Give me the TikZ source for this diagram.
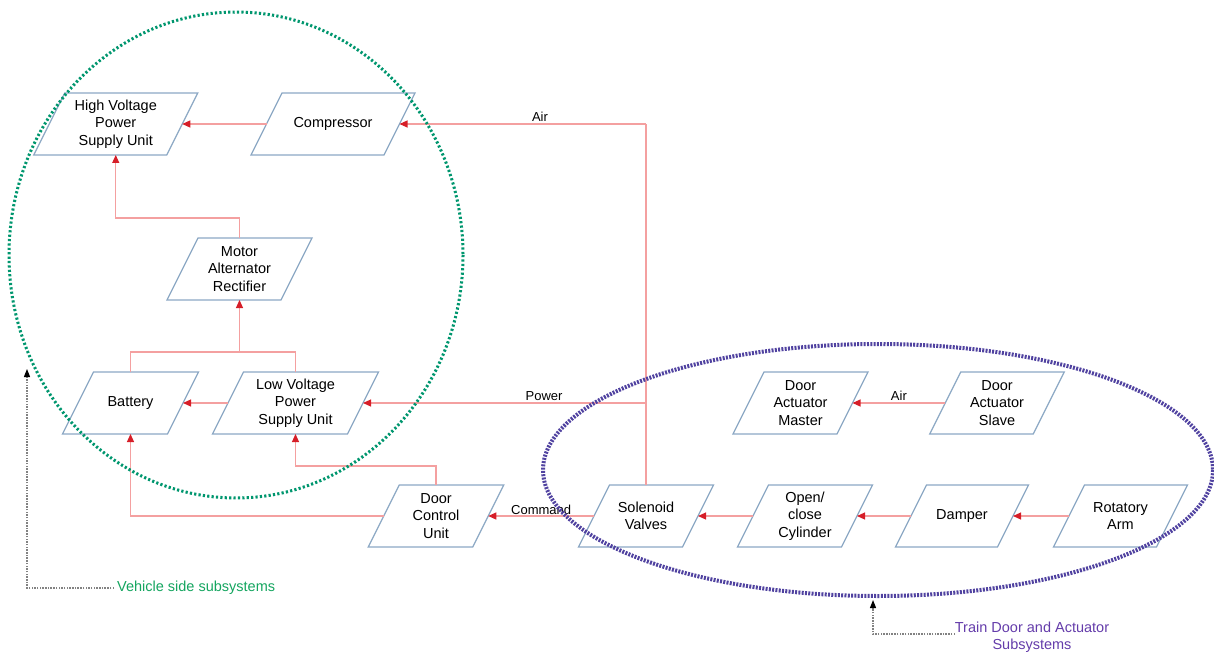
\documentclass[tikz,border=0pt]{standalone}
\usepackage{fontspec}
\setmainfont{Liberation Sans}
\usetikzlibrary{arrows.meta,calc}
\definecolor{bordc}{RGB}{140,168,196}
\definecolor{linec}{RGB}{244,160,160}
\definecolor{tipc}{RGB}{214,30,40}
\definecolor{grn}{RGB}{0,150,110}
\definecolor{grntxt}{RGB}{20,165,95}
\definecolor{blu}{RGB}{80,66,160}
\definecolor{purtxt}{RGB}{100,60,170}
\definecolor{annc}{RGB}{130,130,130}
\tikzset{
  blk/.style={minimum height=62pt, inner sep=0pt, outer sep=0pt, align=center,
    font=\fontsize{14.5}{17.5}\selectfont},
  border/.style={draw=bordc, line width=1.3pt, line join=miter},
  conn/.style={draw=linec, line width=1.1pt, -{Triangle[length=8pt,width=7pt,color=tipc]}},
  plain/.style={draw=linec, line width=1.1pt},
  lbl/.style={font=\fontsize{13}{15}\selectfont, inner sep=2pt},
  annot/.style={draw=annc, line width=1.1pt, dash pattern=on 1.5pt off 1.2pt,
    -{Triangle[length=8pt,width=6pt,color=black]}},
}
\newcommand\pbox[4]{%
  \node[blk, minimum width=#4pt] (#1) at (#2) {#3};
  \draw[border] ([xshift=15.5pt]#1.north west) -- ([xshift=15.5pt]#1.north east)
    -- ([xshift=-15.5pt]#1.south east) -- ([xshift=-15.5pt]#1.south west) -- cycle;}
\begin{document}
\begin{tikzpicture}[x=1pt,y=-1pt]
\useasboundingbox (0,0) rectangle (1214,652);
\pbox{hv}{115.75,124}{High Voltage\\Power\\Supply Unit}{133}
\pbox{comp}{333,124}{Compressor}{133}
\pbox{mar}{239.5,269}{Motor\\Alternator\\Rectifier}{114}
\pbox{bat}{130.5,403}{Battery}{105}
\pbox{lv}{295.5,403}{Low Voltage\\Power\\Supply Unit}{135}
\pbox{dcu}{436,516}{Door\\Control\\Unit}{104.5}
\pbox{sv}{646,516}{Solenoid\\Valves}{104}
\pbox{oc}{805,516}{Open/\\close\\Cylinder}{104}
\pbox{dmp}{962,516}{Damper}{102}
\pbox{rot}{1120.5,516}{Rotatory\\Arm}{103}
\pbox{dam}{800.5,403}{Door\\Actuator\\Master}{104}
\pbox{das}{997,403}{Door\\Actuator\\Slave}{103.5}
\coordinate (jA) at (646,124);
\coordinate (jP) at (646,403);
\coordinate (jB) at (239.5,352);
% connectors
\draw[conn] (comp.west) -- (hv.east);
\draw[plain] (sv.north) -- (jA);
\draw[conn] (jA) -- node[lbl, above, pos=0.43]{Air} (comp.east);
\draw[conn] (jP) -- node[lbl, above, pos=0.36]{Power} (lv.east);
\draw[conn] (mar.north) -- ++(0,-20) -| (hv.south);
\draw[plain] (bat.north) -- ++(0,-20) -| (lv.north);
\draw[conn] (jB) -- (mar.south);
\draw[conn] (lv.west) -- (bat.east);
\draw[conn] (dcu.north) -- ++(0,-19) -| (lv.south);
\draw[conn] (dcu.west) -| (bat.south);
\draw[conn] (sv.west) -- node[lbl, above, inner sep=1pt]{Command} (dcu.east);
\draw[conn] (oc.west) -- (sv.east);
\draw[conn] (dmp.west) -- (oc.east);
\draw[conn] (rot.west) -- (dmp.east);
\draw[conn] (das.west) -- node[lbl, above]{Air} (dam.east);
% group ellipses
\draw[grn, line width=3pt, dash pattern=on 2.2pt off 2.2pt] (236,255) ellipse [x radius=227, y radius=243];
\draw[blu, line width=4pt, dash pattern=on 2pt off 1.3pt] (878,470) ellipse [x radius=335, y radius=126];
% annotations
\node[anchor=west, text=grntxt, inner sep=3pt, font=\fontsize{14.5}{17.5}\selectfont] (vlab) at (114,588) {Vehicle side subsystems};
\coordinate (vtip) at (27,369);
\draw[annot] (vlab.west) -| (vtip);
\node[text=purtxt, align=center, inner sep=0pt, font=\fontsize{14.5}{17}\selectfont] (tlab) at (1032,637.5) {Train Door and Actuator\\Subsystems};
\coordinate (ttip) at (873,600);
\draw[annot] ([yshift=3.5pt,xshift=-77pt]tlab.center) -| (ttip);
\end{tikzpicture}
\end{document}
